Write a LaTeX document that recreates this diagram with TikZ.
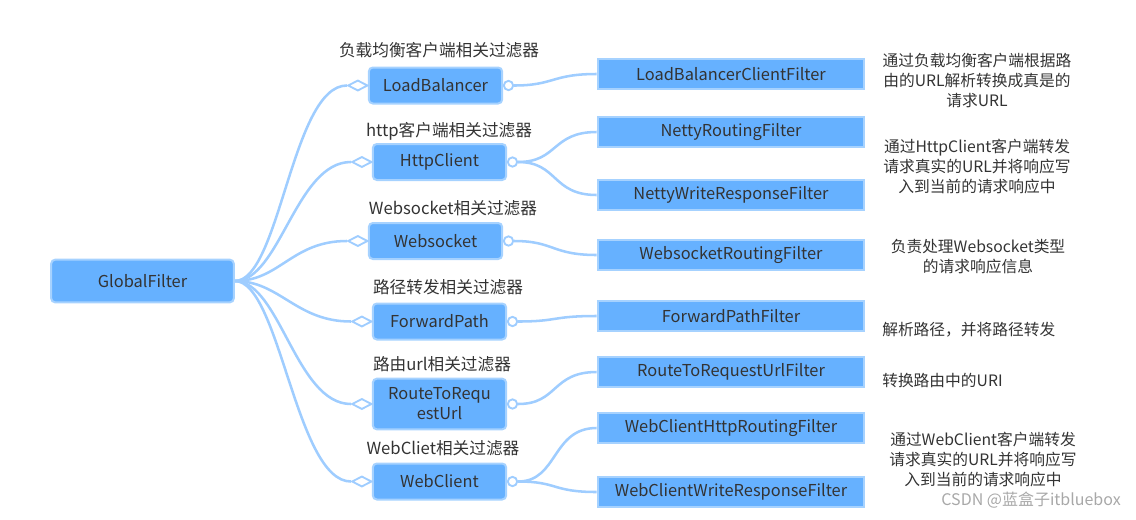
\documentclass[tikz,border=0pt]{standalone}
\usepackage{fontspec}
\setmainfont{Noto Sans CJK SC}
\usetikzlibrary{shapes.geometric}
\definecolor{boxfill}{HTML}{66B1FF}
\definecolor{boxedge}{HTML}{A6D2FF}
\definecolor{linec}{HTML}{9FCDFF}
\definecolor{txt}{HTML}{333333}
\definecolor{wm}{HTML}{A8A8A8}
\pgfdeclarelayer{bg}
\pgfsetlayers{bg,main}
\begin{document}
\begin{tikzpicture}[x=0.75pt,y=-0.75pt,
  midbox/.style={draw=boxedge, line width=1.5pt, fill=boxfill, rounded corners=3pt,
    minimum width=100pt, minimum height=27pt, text=txt, inner sep=0pt, align=center,
    font=\fontsize{12.3}{15}\selectfont},
  leafbox/.style={draw=boxedge, line width=1.5pt, fill=boxfill,
    minimum width=200pt, minimum height=22pt, text=txt, inner sep=0pt,
    font=\fontsize{12.3}{15}\selectfont},
  grp/.style={text=txt, font=\fontsize{12.5}{15}\selectfont, inner sep=0pt},
  desc/.style={text=txt, font=\fontsize{11.8}{15}\selectfont, inner sep=0pt, align=center},
  conn/.style={draw=linec, line width=1.9pt},
  dia/.style={diamond, draw=linec, line width=1.4pt, fill=white, minimum width=15pt,
    minimum height=8pt, inner sep=0pt},
  cir/.style={circle, draw=linec, line width=1.4pt, fill=white, minimum size=7pt, inner sep=0pt}]
\useasboundingbox (0,0) rectangle (1136,519);

% root
\node[midbox, minimum width=137pt, minimum height=32pt] (gf) at (142.5,281) {GlobalFilter};

% middle boxes
\node[midbox] (m1) at (435.5,85.5) {LoadBalancer};
\node[midbox] (m2) at (439.5,162) {HttpClient};
\node[midbox] (m3) at (435.5,241) {Websocket};
\node[midbox] (m4) at (439.5,321.5) {ForwardPath};
\node[midbox, minimum height=38pt] (m5) at (439.5,404) {RouteToRequ\\estUrl};
\node[midbox] (m6) at (439.5,481.5) {WebClient};

% group labels
\node[grp] (g1) at (439,50) {负载均衡客户端相关过滤器};
\node[grp] (g2) at (449,131) {http客户端相关过滤器};
\node[grp] (g3) at (453,208) {Websocket相关过滤器};
\node[grp] (g4) at (448,287) {路径转发相关过滤器};
\node[grp] (g5) at (442,364) {路由url相关过滤器};
\node[grp] (g6) at (443,448) {WebCliet相关过滤器};

% diamonds and circles
\foreach \i in {1,...,6}{
  \node[dia] (d\i) at ([xshift=-7.5pt]m\i.west) {};
  \node[cir] (c\i) at ([xshift=4pt]m\i.east) {};
}

% leaf boxes
\node[leafbox] (l1) at (731,74) {LoadBalancerClientFilter};
\node[leafbox] (l2) at (731,132) {NettyRoutingFilter};
\node[leafbox] (l3) at (731,195) {NettyWriteResponseFilter};
\node[leafbox] (l4) at (731,255) {WebsocketRoutingFilter};
\node[leafbox] (l5) at (731,316) {ForwardPathFilter};
\node[leafbox] (l6) at (731,372) {RouteToRequestUrlFilter};
\node[leafbox] (l7) at (731,428) {WebClientHttpRoutingFilter};
\node[leafbox] (l8) at (731,492) {WebClientWriteResponseFilter};

% descriptions
\node[desc] (t1) at (977,80) {通过负载均衡客户端根据路\\由的URL解析转换成真是的\\请求URL};
\node[desc] (t2) at (977,166) {通过HttpClient客户端转发\\请求真实的URL并将响应写\\入到当前的请求响应中};
\node[desc] (t3) at (978,257) {负责处理Websocket类型\\的请求响应信息};
\node[desc, anchor=west] (t4) at (882,330) {解析路径，并将路径转发};
\node[desc, anchor=west] (t5) at (882,380) {转换路由中的URI};
\node[desc] (t6) at (983,459) {通过WebClient客户端转发\\请求真实的URL并将响应写\\入到当前的请求响应中};

% watermark
\node[text=wm, font=\fontsize{12}{14}\selectfont, inner sep=0pt, anchor=east] (wmk) at (1121,500) {CSDN @蓝盒子itbluebox};

\begin{pgfonlayer}{bg}
\foreach \i in {1,...,6}{
  \draw[conn] (gf.east) .. controls +(45,0) and +(-55,0) .. (d\i.west);
}
\draw[conn] (c1.east) .. controls +(40,0) and +(-45,0) .. (l1.west);
\draw[conn] (c2.east) .. controls +(40,0) and +(-45,0) .. (l2.west);
\draw[conn] (c2.east) .. controls +(40,0) and +(-45,0) .. (l3.west);
\draw[conn] (c3.east) .. controls +(40,0) and +(-45,0) .. (l4.west);
\draw[conn] (c4.east) .. controls +(40,0) and +(-45,0) .. (l5.west);
\draw[conn] (c5.east) .. controls +(40,0) and +(-45,0) .. (l6.west);
\draw[conn] (c6.east) .. controls +(40,0) and +(-45,0) .. (l7.west);
\draw[conn] (c6.east) .. controls +(40,0) and +(-45,0) .. (l8.west);
\end{pgfonlayer}
\end{tikzpicture}
\end{document}
